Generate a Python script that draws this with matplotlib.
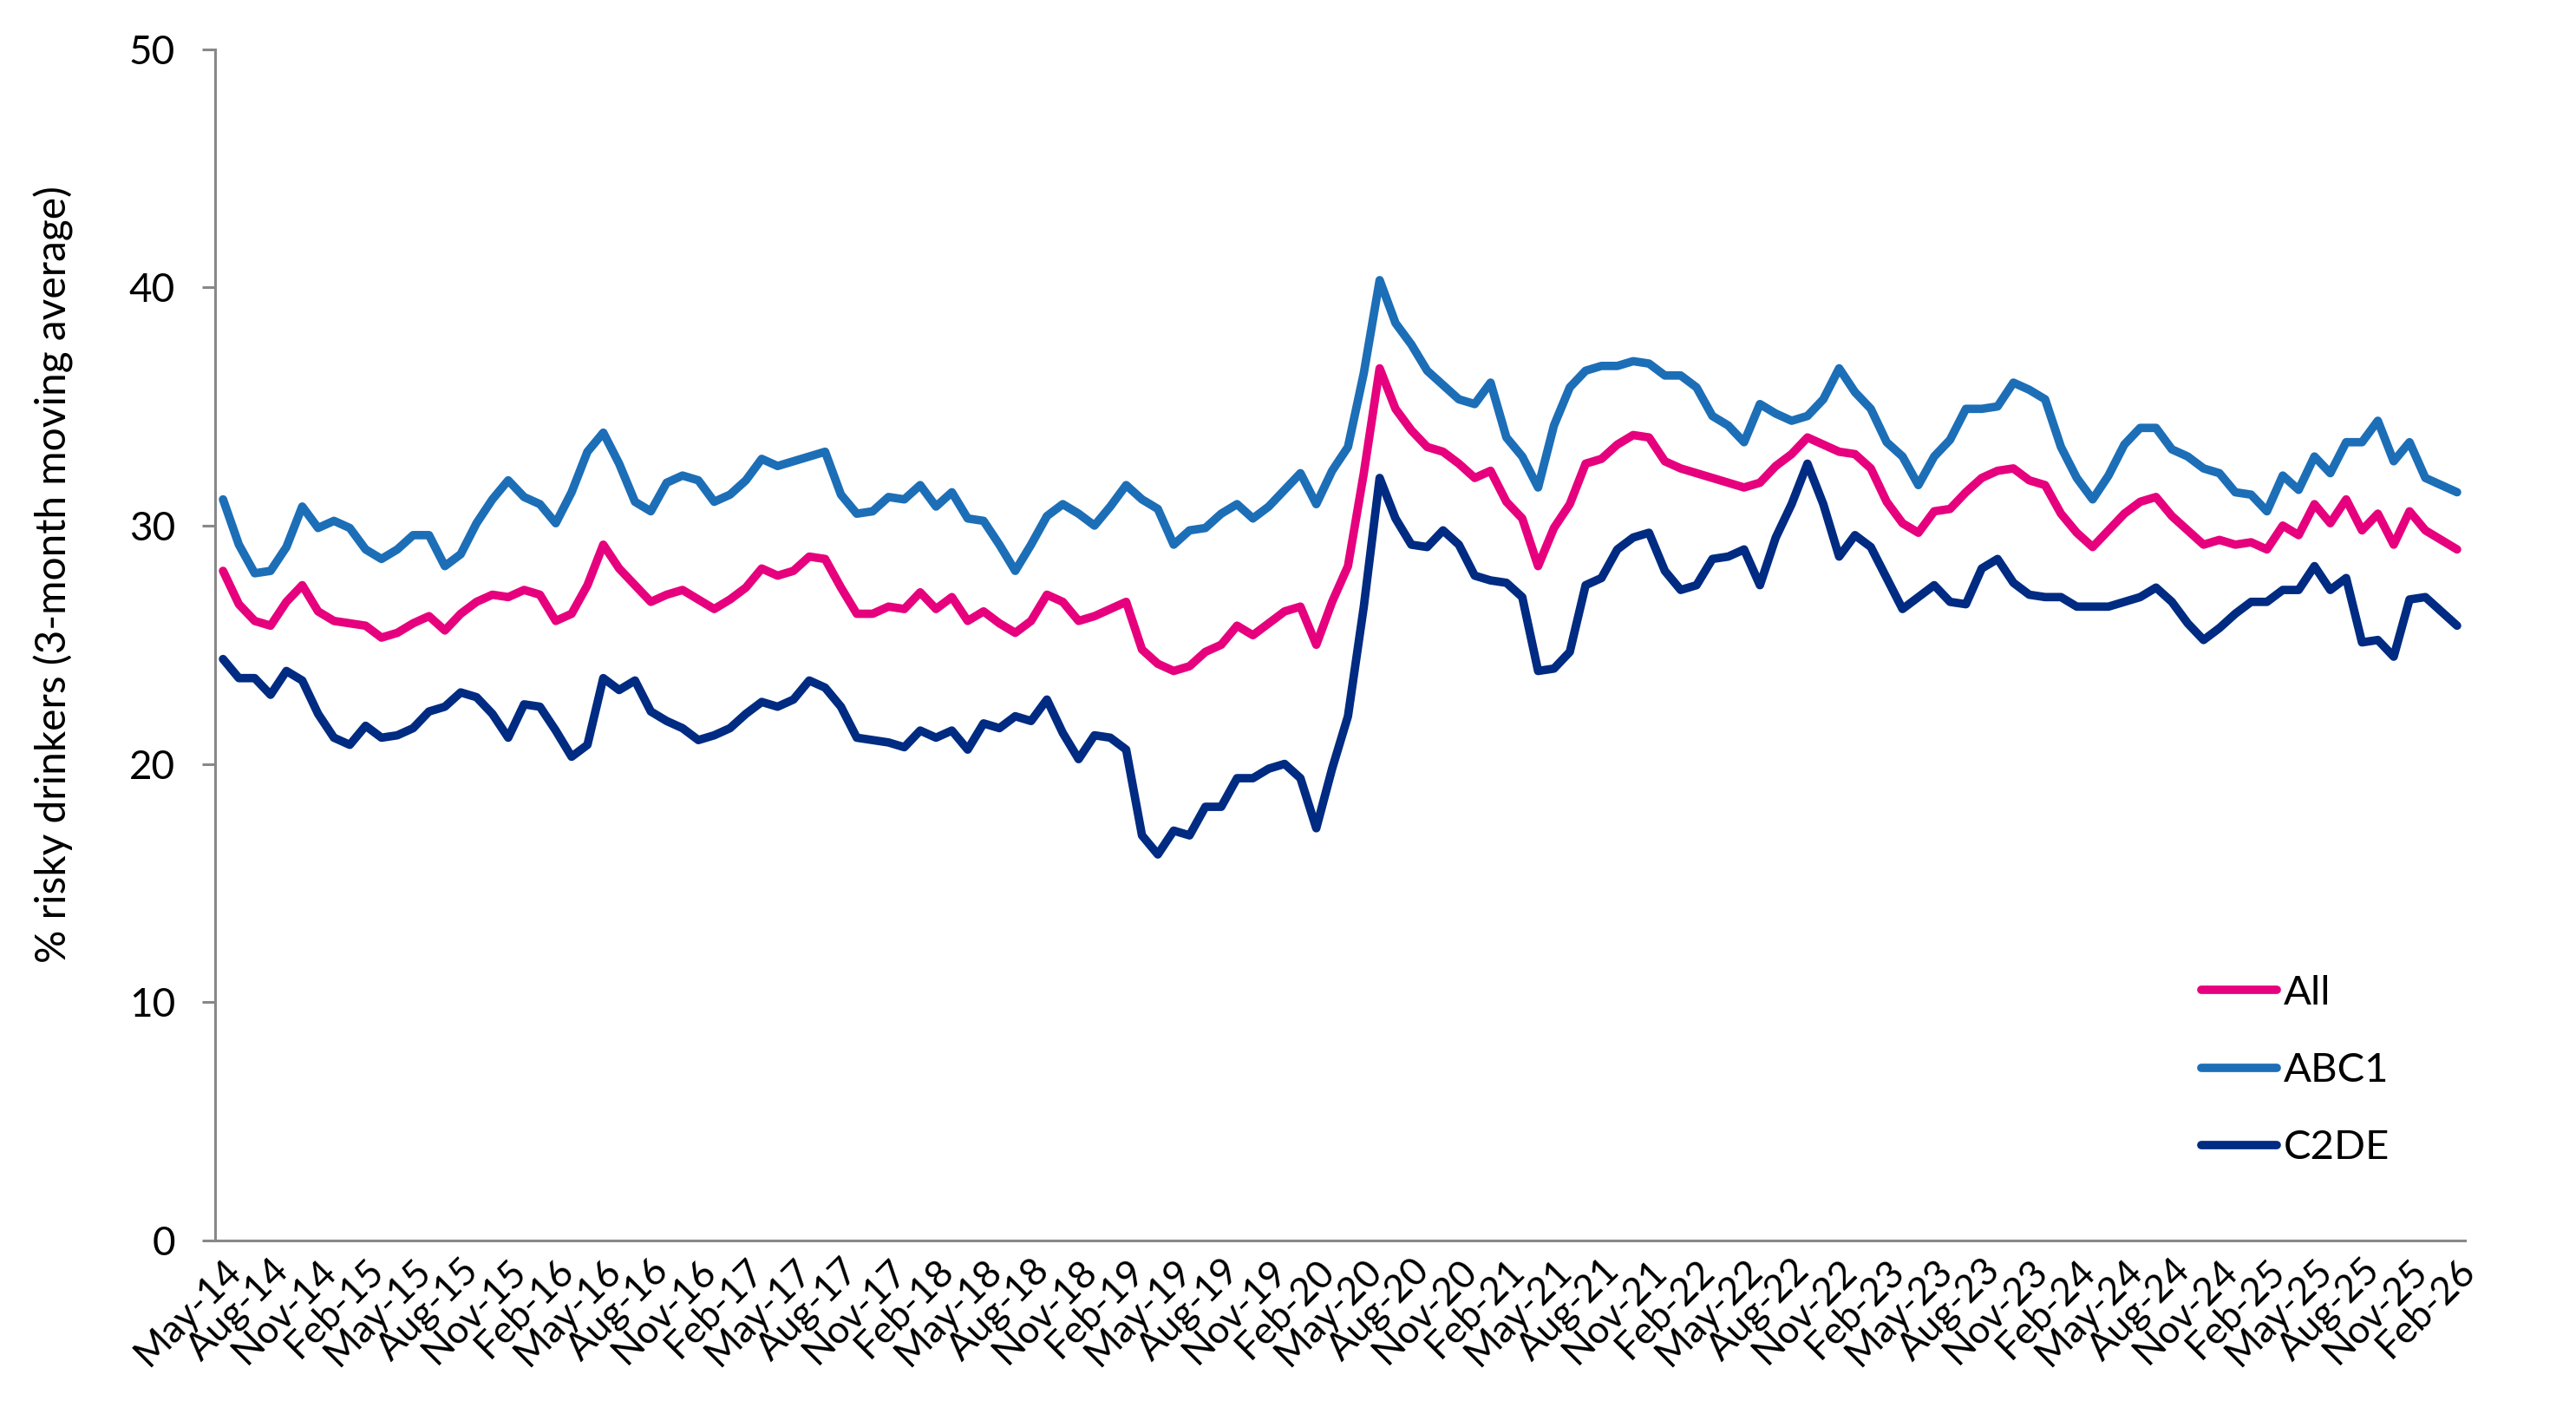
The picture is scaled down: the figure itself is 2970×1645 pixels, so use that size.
import matplotlib
matplotlib.use("Agg")
import matplotlib.pyplot as plt
import numpy as np

# ---------------- data ----------------
months = ["Jan", "Feb", "Mar", "Apr", "May", "Jun", "Jul", "Aug", "Sep", "Oct", "Nov", "Dec"]
start_year, start_month = 2014, 5   # May-14
n_points = 142                      # May-14 .. Feb-26

abc1 = [31.1, 29.2, 28.0, 28.1, 29.1, 30.8, 29.9, 30.2, 29.9, 29.0, 28.6, 29.0, 29.6, 29.6, 28.3,
        28.8, 30.1, 31.1, 31.9, 31.2, 30.9, 30.1, 31.4, 33.1, 33.9, 32.6, 31.0, 30.6, 31.8, 32.1,
        31.9, 31.0, 31.3, 31.9, 32.8, 32.5, 32.7, 32.9, 33.1, 31.3, 30.5, 30.6, 31.2, 31.1, 31.7,
        30.8, 31.4, 30.3, 30.2, 29.2, 28.1, 29.2, 30.4, 30.9, 30.5, 30.0, 30.8, 31.7, 31.1, 30.7,
        29.2, 29.8, 29.9, 30.5, 30.9, 30.3, 30.8, 31.5, 32.2, 30.9, 32.3, 33.3, 36.4, 40.3, 38.5,
        37.6, 36.5, 35.9, 35.3, 35.1, 36.0, 33.7, 32.9, 31.6, 34.2, 35.8, 36.5, 36.7, 36.7, 36.9,
        36.8, 36.3, 36.3, 35.8, 34.6, 34.2, 33.5, 35.1, 34.7, 34.4, 34.6, 35.3, 36.6, 35.6, 34.9,
        33.5, 32.9, 31.7, 32.9, 33.6, 34.9, 34.9, 35.0, 36.0, 35.7, 35.3, 33.3, 32.0, 31.1, 32.1,
        33.4, 34.1, 34.1, 33.2, 32.9, 32.4, 32.2, 31.4, 31.3, 30.6, 32.1, 31.5, 32.9, 32.2, 33.5,
        33.5, 34.4, 32.7, 33.5, 32.0, 31.7, 31.4]

all_ = [28.1, 26.7, 26.0, 25.8, 26.8, 27.5, 26.4, 26.0, 25.9, 25.8, 25.3, 25.5, 25.9, 26.2, 25.6,
        26.3, 26.8, 27.1, 27.0, 27.3, 27.1, 26.0, 26.3, 27.5, 29.2, 28.2, 27.5, 26.8, 27.1, 27.3,
        26.9, 26.5, 26.9, 27.4, 28.2, 27.9, 28.1, 28.7, 28.6, 27.4, 26.3, 26.3, 26.6, 26.5, 27.2,
        26.5, 27.0, 26.0, 26.4, 25.9, 25.5, 26.0, 27.1, 26.8, 26.0, 26.2, 26.5, 26.8, 24.8, 24.2,
        23.9, 24.1, 24.7, 25.0, 25.8, 25.4, 25.9, 26.4, 26.6, 25.0, 26.8, 28.3, 32.2, 36.6, 34.9,
        34.0, 33.3, 33.1, 32.6, 32.0, 32.3, 31.0, 30.3, 28.3, 29.9, 30.9, 32.6, 32.8, 33.4, 33.8,
        33.7, 32.7, 32.4, 32.2, 32.0, 31.8, 31.6, 31.8, 32.5, 33.0, 33.7, 33.4, 33.1, 33.0, 32.4,
        31.0, 30.1, 29.7, 30.6, 30.7, 31.4, 32.0, 32.3, 32.4, 31.9, 31.7, 30.5, 29.7, 29.1, 29.8,
        30.5, 31.0, 31.2, 30.4, 29.8, 29.2, 29.4, 29.2, 29.3, 29.0, 30.0, 29.6, 30.9, 30.1, 31.1,
        29.8, 30.5, 29.2, 30.6, 29.8, 29.4, 29.0]

c2de = [24.4, 23.6, 23.6, 22.9, 23.9, 23.5, 22.1, 21.1, 20.8, 21.6, 21.1, 21.2, 21.5, 22.2, 22.4,
        23.0, 22.8, 22.1, 21.1, 22.5, 22.4, 21.4, 20.3, 20.8, 23.6, 23.1, 23.5, 22.2, 21.8, 21.5,
        21.0, 21.2, 21.5, 22.1, 22.6, 22.4, 22.7, 23.5, 23.2, 22.4, 21.1, 21.0, 20.9, 20.7, 21.4,
        21.1, 21.4, 20.6, 21.7, 21.5, 22.0, 21.8, 22.7, 21.3, 20.2, 21.2, 21.1, 20.6, 17.0, 16.2,
        17.2, 17.0, 18.2, 18.2, 19.4, 19.4, 19.8, 20.0, 19.4, 17.3, 19.8, 22.0, 26.6, 32.0, 30.3,
        29.2, 29.1, 29.8, 29.2, 27.9, 27.7, 27.6, 27.0, 23.9, 24.0, 24.7, 27.5, 27.8, 29.0, 29.5,
        29.7, 28.1, 27.3, 27.5, 28.6, 28.7, 29.0, 27.5, 29.5, 30.9, 32.6, 30.9, 28.7, 29.6, 29.1,
        27.8, 26.5, 27.0, 27.5, 26.8, 26.7, 28.2, 28.6, 27.6, 27.1, 27.0, 27.0, 26.6, 26.6, 26.6,
        26.8, 27.0, 27.4, 26.8, 25.9, 25.2, 25.7, 26.3, 26.8, 26.8, 27.3, 27.3, 28.3, 27.3, 27.8,
        25.1, 25.2, 24.5, 26.9, 27.0, 26.4, 25.8]

series_names = ["All", "ABC1", "C2DE"]
series_colors = ["#E6007E", "#1C6EB7", "#002B82"]
y_ticks = [0, 10, 20, 30, 40, 50]
y_label = "% risky drinkers (3-month moving average)"

# month labels
labels = []
for k in range(n_points):
    m = (start_month - 1 + k) % 12
    y = start_year + (start_month - 1 + k) // 12
    labels.append(f"{months[m]}-{y % 100:02d}")
x = np.arange(n_points)
tick_idx = list(range(0, n_points, 3))

# ---------------- plot ----------------
plt.rcParams['font.family'] = ['Lato', 'DejaVu Sans']
fig = plt.figure(figsize=(29.7, 16.45), dpi=100)
ax = fig.add_axes([248 / 2970, 1 - 1430 / 1645, 2594 / 2970, (1430 - 56.5) / 1645])

for vals, name, col in zip([all_, abc1, c2de], series_names, series_colors):
    ax.plot(x, vals, color=col, lw=7.0, label=name,
            solid_joinstyle='round', solid_capstyle='round')

ax.set_xlim(-0.5, n_points - 0.5)
ax.set_ylim(0, 50)
ax.set_yticks(y_ticks)
ax.set_yticklabels([str(t) for t in y_ticks], fontsize=33)
ax.set_xticks(tick_idx)
ax.set_xticklabels([labels[i] for i in tick_idx], rotation=45, ha='right',
                   rotation_mode='anchor', fontsize=32)

for s in ['top', 'right']:
    ax.spines[s].set_visible(False)
for s in ['left', 'bottom']:
    ax.spines[s].set_color('#888888')
    ax.spines[s].set_linewidth(2.2)
ax.tick_params(axis='y', direction='out', length=11, width=2.2, color='#888888', pad=22)
ax.tick_params(axis='x', direction='out', length=0, pad=10)

ax.set_ylabel(y_label, fontsize=34.5)
ax.yaxis.set_label_coords(-0.0627, 0.559)

leg = ax.legend(loc='upper left', bbox_to_anchor=(2538 / 2970, 1 - 1124 / 1645),
                bbox_transform=fig.transFigure, frameon=False, fontsize=34,
                handlelength=1.85, handletextpad=0.15, labelspacing=1.0,
                borderaxespad=0, borderpad=0)

fig.savefig("out.png", dpi=100, facecolor='white')
